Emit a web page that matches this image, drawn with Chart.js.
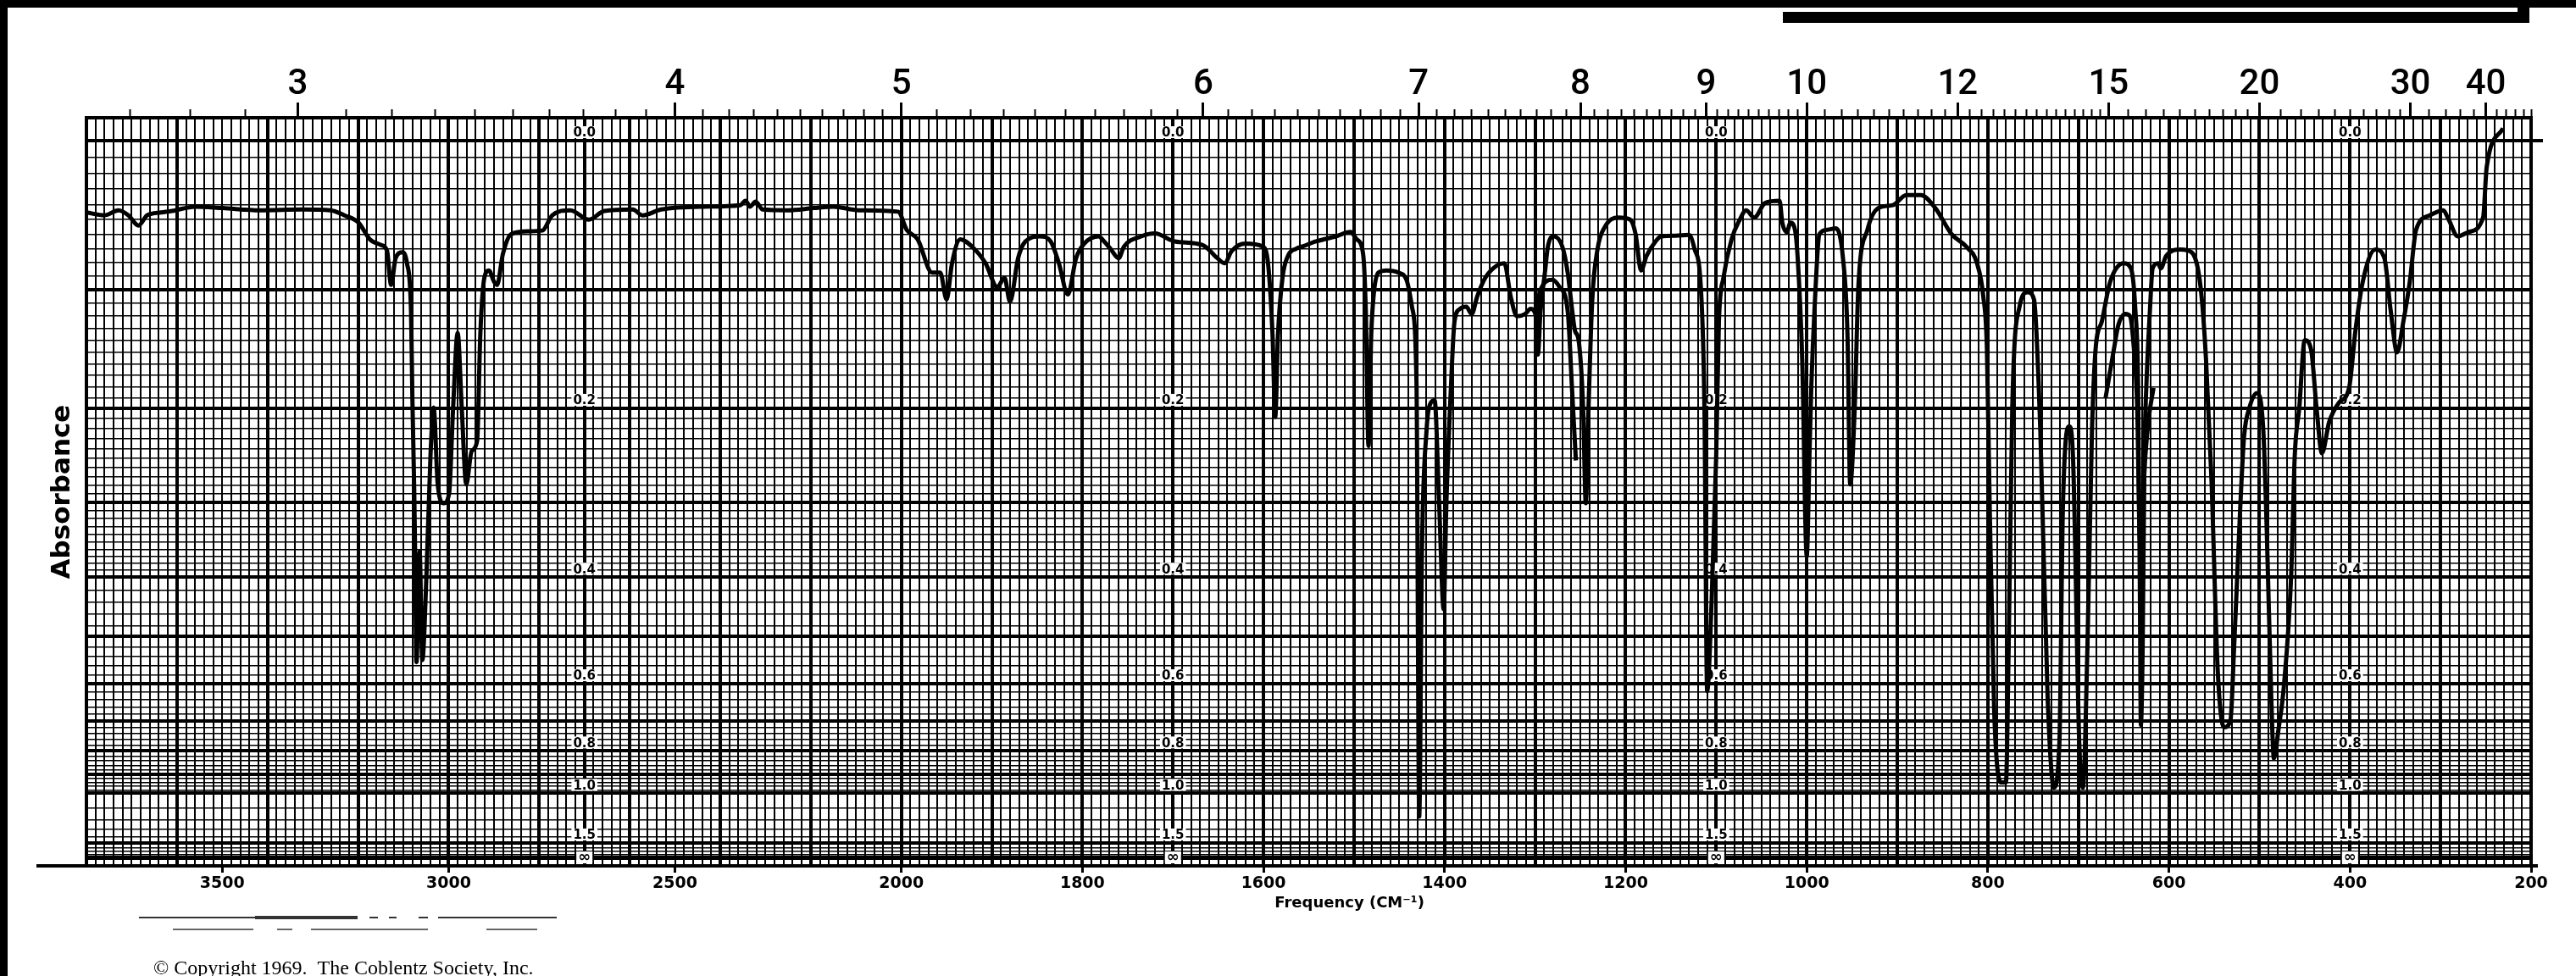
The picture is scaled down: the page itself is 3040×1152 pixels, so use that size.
<!DOCTYPE html>
<html>
<head>
<meta charset="utf-8">
<title>IR spectrum - Coblentz Society</title>
<script src="https://cdn.jsdelivr.net/npm/chart.js@4.4.1/dist/chart.umd.min.js"></script>
<style>
  html, body { margin: 0; padding: 0; background: #fff; }
  canvas { display: block; }
</style>
</head>
<body>
<canvas id="spectrum" width="3040" height="1152"></canvas>
<script>
// frequency axis: 3800-2000 cm-1 is printed at half the scale of 2000-200 cm-1
const FREQ_HI = 3800, FREQ_BREAK = 2000, FREQ_LO = 200;

// tick labels
const freqTicks = [3500, 3000, 2500, 2000, 1800, 1600, 1400, 1200, 1000, 800, 600, 400, 200];
const micronLabels = [3, 4, 5, 6, 7, 8, 9, 10, 12, 15, 20, 30, 40];
const absLabels = ['0.0', '0.2', '0.4', '0.6', '0.8', '1.0', '1.5', '∞'];
const absValues = [0, 0.2, 0.4, 0.6, 0.8, 1.0, 1.5, Infinity];
const labelColumns = [2700, 1700, 1100, 400];   // where the absorbance scale is printed

// main trace: frequency (cm-1) and transmittance (%)
const wavenumbers = [
  3800, 3760, 3729, 3707, 3685, 3666, 3635, 3611, 3560, 3499,
  3416, 3323, 3261, 3230, 3199, 3174, 3149, 3136, 3127, 3117,
  3102, 3092, 3083, 3080, 3076, 3074, 3071, 3064, 3058, 3049,
  3040, 3033, 3024, 3011, 2999, 2990, 2980, 2971, 2961, 2949,
  2937, 2930, 2921, 2911, 2900, 2893, 2880, 2862, 2824, 2793,
  2771, 2731, 2690, 2656, 2593, 2572, 2531, 2437, 2356, 2344,
  2334, 2322, 2306, 2250, 2194, 2150, 2094, 2007, 1994, 1982,
  1966, 1957, 1950, 1944, 1935, 1922, 1907, 1894, 1886, 1880,
  1871, 1863, 1847, 1835, 1826, 1816, 1807, 1798, 1782, 1776,
  1769, 1760, 1754, 1735, 1720, 1698, 1667, 1651, 1643, 1635,
  1620, 1601, 1595, 1590, 1587, 1584, 1579, 1573, 1564, 1557,
  1542, 1520, 1504, 1497, 1490, 1487, 1484, 1481, 1478, 1473,
  1464, 1451, 1442, 1436, 1431, 1428, 1425, 1420, 1415, 1411,
  1406, 1401, 1398, 1393, 1389, 1383, 1376, 1370, 1364, 1355,
  1342, 1334, 1327, 1320, 1311, 1305, 1298, 1297, 1294, 1289,
  1286, 1280, 1270, 1264, 1259, 1256, 1252, 1247, 1244, 1241,
  1237, 1231, 1223, 1208, 1195, 1189, 1183, 1177, 1167, 1161,
  1145, 1130, 1124, 1117, 1113, 1110, 1105, 1100, 1097, 1092,
  1083, 1074, 1067, 1058, 1046, 1030, 1027, 1022, 1018, 1013,
  1010, 1005, 1000, 997, 995, 991, 986, 977, 968, 960,
  955, 952, 947, 943, 933, 921, 905, 890, 874, 858,
  840, 824, 812, 805, 801, 798, 793, 785, 780, 777,
  773, 765, 756, 749, 742, 734, 727, 721, 717, 710,
  706, 699, 695, 690, 685, 681, 674, 665, 650, 642,
  637, 634, 632, 631, 629, 627, 625, 621, 618, 612,
  609, 603, 587, 575, 565, 559, 553, 546, 539, 532,
  528, 521, 517, 511, 503, 496, 492, 487, 484, 479,
  473, 465, 461, 456, 450, 443, 437, 431, 423, 412,
  401, 394, 386, 372, 362, 355, 348, 341, 334, 327,
  312, 297, 291, 281, 269, 253, 249, 231
];
const transmittance = [
  90.1, 89.7, 90.4, 89.7, 88.3, 89.7, 90.1, 90.3, 90.9, 90.7,
  90.4, 90.5, 90.4, 89.7, 88.7, 86.4, 85.6, 84.8, 80.1, 83.8,
  84.6, 83.1, 76.5, 64.5, 52.0, 43.3, 28.1, 43.3, 28.4, 40.0,
  56.6, 63.2, 52.6, 50.0, 51.3, 63.2, 73.5, 63.2, 52.6, 57.2,
  58.6, 73.2, 81.1, 82.1, 80.6, 80.1, 84.4, 87.1, 87.5, 87.6,
  89.7, 90.4, 89.1, 90.3, 90.5, 89.7, 90.5, 90.9, 91.1, 91.7,
  90.9, 91.6, 90.5, 90.4, 90.7, 90.9, 90.4, 90.2, 87.7, 86.4,
  81.8, 81.8, 78.1, 83.1, 86.4, 85.4, 83.1, 79.8, 81.1, 77.8,
  83.8, 86.1, 86.8, 86.1, 83.1, 78.8, 83.8, 85.8, 86.8, 86.1,
  85.1, 83.8, 85.4, 86.8, 87.2, 86.1, 85.6, 83.8, 83.1, 84.8,
  85.8, 85.4, 83.1, 73.2, 61.9, 73.2, 81.1, 84.1, 85.1, 85.4,
  86.1, 86.8, 87.4, 86.4, 84.4, 76.5, 57.9, 73.2, 79.1, 81.8,
  82.1, 81.8, 80.8, 77.1, 66.5, 6.8, 43.3, 59.9, 63.9, 64.2,
  50.0, 35.4, 50.0, 65.9, 75.1, 76.8, 77.1, 76.1, 78.5, 81.1,
  82.8, 83.1, 78.5, 75.8, 76.1, 76.8, 75.1, 70.5, 76.5, 82.0,
  85.3, 86.8, 85.4, 81.8, 76.5, 73.8, 72.5, 63.2, 50.0, 63.2,
  77.8, 85.1, 88.1, 89.4, 89.1, 87.1, 82.1, 84.1, 86.1, 86.8,
  86.9, 87.0, 85.1, 79.8, 63.2, 24.1, 36.7, 56.6, 75.1, 81.1,
  86.4, 89.1, 90.4, 89.4, 91.4, 91.7, 88.7, 87.4, 88.7, 87.7,
  83.8, 69.8, 42.7, 56.6, 65.9, 77.8, 87.1, 87.7, 87.9, 83.8,
  73.2, 52.6, 63.2, 79.8, 87.7, 90.7, 91.1, 92.5, 92.5, 90.7,
  87.1, 85.4, 83.1, 78.5, 71.2, 50.0, 21.4, 11.5, 11.5, 30.1,
  63.2, 77.1, 79.1, 78.1, 59.9, 23.4, 10.8, 16.8, 50.0, 60.6,
  56.6, 16.8, 10.8, 30.1, 59.9, 71.2, 75.1, 80.5, 83.1, 82.4,
  76.5, 65.9, 36.7, 19.4, 30.1, 56.6, 65.9, 76.5, 82.4, 83.1,
  82.4, 84.1, 85.0, 84.6, 79.8, 69.8, 53.3, 26.7, 19.1, 20.1,
  30.1, 50.0, 59.2, 63.2, 65.2, 60.6, 46.6, 23.4, 14.8, 18.8,
  24.8, 40.0, 56.6, 63.2, 72.5, 71.2, 63.2, 56.9, 61.2, 63.9,
  65.9, 73.8, 80.5, 85.0, 83.8, 76.5, 70.8, 75.1, 80.5, 87.7,
  89.7, 90.4, 89.1, 86.8, 87.4, 89.4, 96.4, 101.7
];

// second (overlapping) pen trace in two short stretches
const retraceFreqA = [1298, 1295, 1281, 1273, 1264, 1259, 1255];
const retraceA = [75.1, 79.1, 80.8, 79.8, 76.5, 65.2, 55.9];
const retraceFreqB = [670, 660, 656, 648, 643, 639, 635, 632, 629, 626, 622, 617];
const retraceB = [64.5, 71.8, 74.5, 76.1, 75.8, 71.8, 63.2, 45.0, 50.0, 56.6, 62.0, 65.9];

// page layout (pixels)
const PLOT = { left: 102, right: 2987, top: 139, bottom: 1022 };
const T100_Y = 166;   // where 100 %T (absorbance 0) sits
const Y_MAX = 100 * (PLOT.bottom - PLOT.top) / (PLOT.bottom - T100_Y);

function freqUnits(v) {
  return v >= FREQ_BREAK ? (FREQ_HI - v) / 2 : (FREQ_HI - FREQ_BREAK) / 2 + (FREQ_BREAK - v);
}
const FREQ_SPAN = freqUnits(FREQ_LO);

class SplitFreqScale extends Chart.LinearScale {
  getPixelForValue(value) {
    return this.left + freqUnits(value) / FREQ_SPAN * this.width;
  }
  getValueForPixel(pixel) {
    const u = (pixel - this.left) / this.width * FREQ_SPAN;
    const half = (FREQ_HI - FREQ_BREAK) / 2;
    return u <= half ? FREQ_HI - 2 * u : FREQ_BREAK - (u - half);
  }
}
SplitFreqScale.id = 'splitFreq';
SplitFreqScale.defaults = {};
Chart.register(SplitFreqScale);

// chart paper rulings
function freqGridTicks() {
  const out = [];
  for (let v = FREQ_HI; v >= FREQ_BREAK; v -= 20) out.push({ value: v, heavy: v % 200 === 0 || v === 2700 });
  for (let v = FREQ_BREAK - 10; v >= FREQ_LO; v -= 10) out.push({ value: v, heavy: v % 100 === 0 });
  return out;
}
function absGridTicks() {
  const a = [];
  for (let i = 0; i <= 40; i++) a.push(i / 100);
  for (let i = 42; i <= 100; i += 2) a.push(i / 100);
  for (let i = 11; i <= 20; i++) a.push(i / 10);
  return a.map(v => {
    const tenth = Math.abs(v * 10 - Math.round(v * 10)) < 1e-6;
    return { value: 100 * Math.pow(10, -v), heavy: tenth && (v <= 1 || v === 1.5 || v === 2) };
  });
}
function micronMinorTicks() {
  const out = [];
  const add = (from, to, step) => {
    for (let m = from; m < to - 1e-9; m += step) out.push({ value: 1e4 / m });
  };
  add(2.7, 10, 0.1);
  add(10, 15, 0.2);
  add(15, 20, 0.5);
  add(20, 30, 1);
  add(30, 50.1, 2);
  return out;
}

const toPoints = (xs, ys) => xs.map((x, i) => ({ x: x, y: ys[i] }));

const traceStyle = {
  borderColor: '#000',
  borderWidth: 5,
  pointRadius: 0,
  fill: false,
  cubicInterpolationMode: 'monotone',
  xAxisID: 'x',
  yAxisID: 'y'
};

const paperPlugin = {
  id: 'paper',
  beforeDatasetsDraw(chart) {
    const { ctx, chartArea: a, scales } = chart;
    ctx.save();
    ctx.strokeStyle = '#000';
    ctx.lineWidth = 4;
    ctx.strokeRect(a.left, a.top, a.right - a.left, a.bottom - a.top);

    // absorbance scale printed inside the grid
    ctx.textAlign = 'center';
    ctx.textBaseline = 'bottom';
    labelColumns.forEach(f => {
      const x = scales.x.getPixelForValue(f);
      absValues.forEach((v, i) => {
        const y = scales.y.getPixelForValue(100 * Math.pow(10, -v)) - 2;
        ctx.font = i === absLabels.length - 1 ? 'bold 18px "DejaVu Sans"' : 'bold 15px "DejaVu Sans"';
        const w = ctx.measureText(absLabels[i]).width;
        ctx.fillStyle = '#fff';
        ctx.fillRect(x - w / 2 - 2, y - 15, w + 4, 14);
        ctx.fillStyle = '#000';
        ctx.fillText(absLabels[i], x, y + 1);
      });
    });
    ctx.restore();
  },
  afterDraw(chart) {
    const { ctx, chartArea: a, scales } = chart;
    ctx.save();
    ctx.fillStyle = '#000';
    // sheet border and header box
    ctx.fillRect(0, 0, 9, 1152);
    ctx.fillRect(0, 0, 3040, 9);
    ctx.fillRect(2104, 14, 2985 - 2104, 13);
    ctx.fillRect(2971, 0, 14, 27);
    // baseline runs past the frame, 100 %T mark on the right
    ctx.fillRect(43, a.bottom - 2, a.left - 43, 4);
    ctx.fillRect(a.right, a.bottom - 2, 8, 4);
    const y100 = scales.y.getPixelForValue(100);
    ctx.fillRect(a.right, y100 - 2, 14, 4);

    // faded lines under the axis
    ctx.strokeStyle = '#333';
    ctx.lineWidth = 2;
    [[164, 301], [436, 446], [459, 468], [494, 505], [517, 560], [560, 657]].forEach(s => {
      ctx.beginPath(); ctx.moveTo(s[0], 1083); ctx.lineTo(s[1], 1083); ctx.stroke();
    });
    ctx.lineWidth = 4;
    ctx.beginPath(); ctx.moveTo(301, 1083); ctx.lineTo(422, 1083); ctx.stroke();
    ctx.lineWidth = 1.5;
    [[204, 299], [327, 345], [367, 505], [574, 634]].forEach(s => {
      ctx.beginPath(); ctx.moveTo(s[0], 1097); ctx.lineTo(s[1], 1097); ctx.stroke();
    });

    // axis caption and credit line
    ctx.fillStyle = '#000';
    ctx.textAlign = 'center';
    ctx.textBaseline = 'middle';
    ctx.font = 'bold 18px "DejaVu Sans"';
    ctx.fillText('Frequency (CM⁻¹)', scales.x.getPixelForValue(1505), 1066);
    ctx.textAlign = 'left';
    ctx.textBaseline = 'alphabetic';
    ctx.font = '24px "Liberation Serif"';
    ctx.fillText('© Copyright 1969.  The Coblentz Society, Inc.', 181, 1150);
    ctx.restore();
  }
};

const axisFont = { family: '"DejaVu Sans", sans-serif', weight: 'bold', size: 19, lineHeight: 1 };

new Chart(document.getElementById('spectrum'), {
  type: 'line',
  data: {
    datasets: [
      Object.assign({ data: toPoints(wavenumbers, transmittance) }, traceStyle),
      Object.assign({ data: toPoints(retraceFreqA, retraceA) }, traceStyle),
      Object.assign({ data: toPoints(retraceFreqB, retraceB) }, traceStyle)
    ]
  },
  options: {
    responsive: false,
    maintainAspectRatio: false,
    devicePixelRatio: 1,
    animation: false,
    events: [],
    layout: { padding: { left: 0, top: 0, bottom: 0, right: 3040 - PLOT.right } },
    plugins: {
      legend: { display: false },
      tooltip: { enabled: false }
    },
    scales: {
      x: {
        type: 'splitFreq', axis: 'x', position: 'bottom', weight: 1,
        min: FREQ_LO, max: FREQ_HI,
        afterBuildTicks: s => { s.ticks = freqTicks.map(v => ({ value: v })); },
        afterFit: s => { s.height = 1152 - PLOT.bottom; },
        grid: { drawOnChartArea: false, drawTicks: true, tickLength: 8, tickWidth: 3, tickColor: '#000' },
        border: { display: false },
        ticks: {
          autoSkip: false, maxRotation: 0, padding: 4, color: '#000', font: axisFont,
          callback: v => String(v)
        }
      },
      xGrid: {
        type: 'splitFreq', axis: 'x', position: 'bottom', weight: 0,
        min: FREQ_LO, max: FREQ_HI,
        afterBuildTicks: s => { s.ticks = freqGridTicks(); },
        afterFit: s => { s.height = 0; },
        grid: {
          color: '#000',
          lineWidth: c => (c.tick && c.tick.heavy) ? 4 : 2,
          drawTicks: false
        },
        border: { display: false },
        ticks: { display: false, autoSkip: false }
      },
      xTop: {
        type: 'splitFreq', axis: 'x', position: 'top', weight: 1,
        min: FREQ_LO, max: FREQ_HI,
        afterBuildTicks: s => { s.ticks = micronLabels.map(m => ({ value: 1e4 / m, micron: m })); },
        afterFit: s => { s.height = PLOT.top; },
        grid: { drawOnChartArea: false, drawTicks: true, tickLength: 18, tickWidth: 3, tickColor: '#000' },
        border: { display: false },
        ticks: {
          autoSkip: false, maxRotation: 0, padding: 0, color: '#000',
          font: { family: 'Roboto, sans-serif', size: 42, weight: '500', lineHeight: 1 },
          callback: (v, i, ticks) => String(ticks[i].micron)
        }
      },
      xTopMinor: {
        type: 'splitFreq', axis: 'x', position: 'top', weight: 0,
        min: FREQ_LO, max: FREQ_HI,
        afterBuildTicks: s => { s.ticks = micronMinorTicks(); },
        afterFit: s => { s.height = 0; },
        grid: { drawOnChartArea: false, drawTicks: true, tickLength: 10, tickWidth: 2, tickColor: '#000' },
        border: { display: false },
        ticks: { display: false, autoSkip: false }
      },
      y: {
        type: 'linear', position: 'left',
        min: 0, max: Y_MAX,
        afterBuildTicks: s => { s.ticks = absGridTicks(); },
        afterFit: s => { s.width = PLOT.left; },
        grid: {
          color: '#000',
          lineWidth: c => (c.tick && c.tick.heavy) ? 4 : 1.6,
          drawTicks: false
        },
        border: { display: false },
        ticks: { display: false, autoSkip: false },
        title: {
          display: true, text: 'Absorbance', color: '#000',
          font: { family: '"DejaVu Sans", sans-serif', weight: 'bold', size: 31 },
          padding: { top: 55, bottom: 0 }
        }
      }
    }
  },
  plugins: [paperPlugin]
});
</script>
</body>
</html>
